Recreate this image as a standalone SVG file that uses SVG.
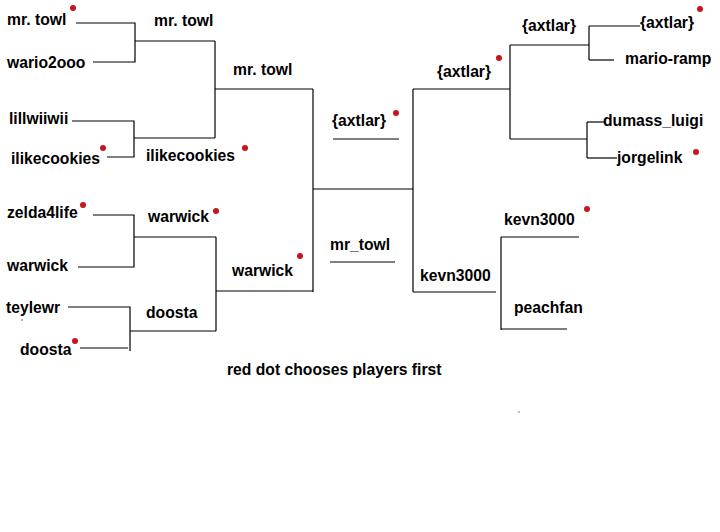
<svg xmlns="http://www.w3.org/2000/svg" width="720" height="532" viewBox="0 0 720 532">
<style>
.t{font-family:"Liberation Sans",Arial,sans-serif;font-weight:bold;font-size:15.7px;fill:#000}
.c{fill:none;stroke:#000;stroke-width:1.2}
.d{fill:#c8141c}
</style>
<rect width="720" height="532" fill="#fff"/>
<g id="connectors" class="c">
<path d="M76,23H135V62H93"/>
<path d="M135,41H215"/>
<path d="M72,121H134V157H107"/>
<path d="M134,138H215"/>
<path d="M215,41V138"/>
<path d="M215,89H313"/>
<path d="M93,215H134V267H78"/>
<path d="M134,237H216"/>
<path d="M68,307H130V351"/>
<path d="M80,348H128"/>
<path d="M130,331H216"/>
<path d="M216,237V331"/>
<path d="M216,291H313"/>
<path d="M313,89V292"/>
<path d="M313,189H413"/>
<path d="M333,139H399"/>
<path d="M330,262H395"/>
<path d="M413,89V292"/>
<path d="M413,89H510"/>
<path d="M510,45V139"/>
<path d="M510,45H589"/>
<path d="M589,26V60"/>
<path d="M589,26H640"/>
<path d="M589,60H614"/>
<path d="M510,139H587"/>
<path d="M587,122V158"/>
<path d="M587,122H604"/>
<path d="M587,158H617"/>
<path d="M413,292H496"/>
<path d="M501,237V330"/>
<path d="M501,237H579"/>
<path d="M501,329H567"/>
</g>
<g id="n-mrtowl-r1"><text class="t" x="7" y="25">mr. towl</text><circle class="d" cx="73" cy="8" r="3"/></g>
<g id="n-wario2ooo"><text class="t" x="7" y="68">wario2ooo</text></g>
<g id="n-lillwiiwii"><text class="t" x="9" y="124">lillwiiwii</text></g>
<g id="n-ilikecookies-r1"><text class="t" x="11" y="164">ilikecookies</text><circle class="d" cx="103" cy="148" r="3"/></g>
<g id="n-mrtowl-r2"><text class="t" x="154" y="26">mr. towl</text></g>
<g id="n-ilikecookies-r2"><text class="t" x="146" y="161">ilikecookies</text><circle class="d" cx="245" cy="148" r="3"/></g>
<g id="n-mrtowl-r3"><text class="t" x="233" y="75">mr. towl</text></g>
<g id="n-zelda4life"><text class="t" x="7" y="218">zelda4life</text><circle class="d" cx="83" cy="205" r="3"/></g>
<g id="n-warwick-r1"><text class="t" x="7" y="271">warwick</text></g>
<g id="n-warwick-r2"><text class="t" x="148" y="222">warwick</text><circle class="d" cx="216" cy="211" r="3"/></g>
<g id="n-warwick-r3"><text class="t" x="232" y="276">warwick</text><circle class="d" cx="300" cy="256" r="3"/></g>
<g id="n-teylewr"><text class="t" x="6" y="313">teylewr</text><path d="M21,320h2" stroke="#666" stroke-width="1"/></g>
<g id="n-doosta-r1"><text class="t" x="20" y="355">doosta</text><circle class="d" cx="75" cy="341" r="3"/></g>
<g id="n-doosta-r2"><text class="t" x="146" y="318">doosta</text></g>
<g id="n-axtlar-final"><text class="t" x="332" y="126">{axtlar}</text><circle class="d" cx="396" cy="113" r="3"/></g>
<g id="n-mr_towl-final"><text class="t" x="330" y="250">mr_towl</text></g>
<g id="n-axtlar-r3"><text class="t" x="437" y="77">{axtlar}</text><circle class="d" cx="499" cy="58" r="3"/></g>
<g id="n-axtlar-r2"><text class="t" x="522" y="31">{axtlar}</text></g>
<g id="n-axtlar-r1"><text class="t" x="640" y="28">{axtlar}</text><circle class="d" cx="700" cy="9" r="3"/></g>
<g id="n-marioramp"><text class="t" x="625" y="64">mario-ramp</text></g>
<g id="n-dumassluigi"><text class="t" x="603" y="126">dumass_luigi</text></g>
<g id="n-jorgelink"><text class="t" x="617" y="163">jorgelink</text><circle class="d" cx="696" cy="152" r="3"/></g>
<g id="n-kevn3000-r3"><text class="t" x="420" y="281">kevn3000</text></g>
<g id="n-kevn3000-r2"><text class="t" x="504" y="225">kevn3000</text><circle class="d" cx="587" cy="209" r="3"/></g>
<g id="n-peachfan"><text class="t" x="514" y="313">peachfan</text></g>
<g id="legend"><text class="t" x="227" y="375">red dot chooses players first</text></g>
<circle cx="519" cy="412" r="0.7" fill="#555"/>
</svg>
